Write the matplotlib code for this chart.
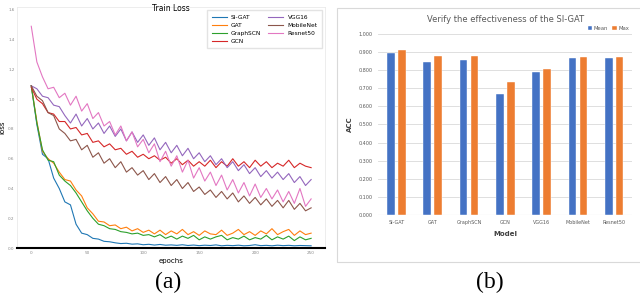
import numpy as np
import matplotlib
matplotlib.use('Agg')
import matplotlib.pyplot as plt
from matplotlib.patches import Rectangle

# --- (a) train loss ---
epochs = list(range(0, 251, 5))
loss_names = ['SI-GAT', 'GAT', 'GraphSCN', 'GCN', 'VGG16', 'MobileNet', 'Resnet50']

si_gat = [1.09, 0.83, 0.63, 0.60, 0.47, 0.40, 0.31, 0.29, 0.16, 0.10,
          0.09, 0.065, 0.06, 0.045, 0.042, 0.035, 0.030, 0.032, 0.026, 0.028,
          0.022, 0.025, 0.020, 0.024, 0.019, 0.021, 0.018, 0.022, 0.017, 0.020,
          0.016, 0.019, 0.017, 0.021, 0.015, 0.018, 0.016, 0.019, 0.015, 0.017,
          0.022, 0.016, 0.018, 0.015, 0.019, 0.016, 0.018, 0.015, 0.017, 0.016, 0.015]
gat = [1.09, 0.85, 0.65, 0.60, 0.57, 0.51, 0.46, 0.45, 0.39, 0.35,
       0.27, 0.23, 0.18, 0.175, 0.15, 0.155, 0.13, 0.14, 0.115, 0.13,
       0.105, 0.12, 0.095, 0.12, 0.09, 0.115, 0.095, 0.125, 0.09, 0.11,
       0.085, 0.115, 0.095, 0.09, 0.12, 0.085, 0.10, 0.125, 0.09, 0.11,
       0.085, 0.115, 0.095, 0.13, 0.09, 0.11, 0.125, 0.085, 0.115, 0.09, 0.10]
graphscn = [1.09, 0.84, 0.66, 0.59, 0.58, 0.49, 0.45, 0.42, 0.37, 0.31,
            0.25, 0.20, 0.16, 0.15, 0.13, 0.125, 0.11, 0.105, 0.095, 0.10,
            0.085, 0.09, 0.075, 0.09, 0.065, 0.08, 0.06, 0.08, 0.065, 0.085,
            0.055, 0.075, 0.06, 0.075, 0.085, 0.055, 0.07, 0.06, 0.08, 0.055,
            0.07, 0.06, 0.085, 0.055, 0.075, 0.06, 0.08, 0.05, 0.075, 0.055, 0.065]
gcn = [1.08, 1.00, 0.97, 0.91, 0.90, 0.85, 0.85, 0.80, 0.81, 0.76,
       0.77, 0.71, 0.72, 0.68, 0.70, 0.66, 0.67, 0.63, 0.65, 0.61,
       0.63, 0.60, 0.62, 0.59, 0.61, 0.57, 0.60, 0.56, 0.59, 0.55,
       0.58, 0.55, 0.59, 0.54, 0.58, 0.55, 0.60, 0.55, 0.58, 0.54,
       0.59, 0.55, 0.58, 0.54, 0.57, 0.55, 0.59, 0.54, 0.57, 0.55, 0.54]
vgg16 = [1.09, 1.07, 1.02, 1.01, 0.96, 0.95, 0.89, 0.84, 0.90, 0.82,
         0.87, 0.80, 0.84, 0.77, 0.82, 0.75, 0.80, 0.72, 0.78, 0.71,
         0.76, 0.69, 0.74, 0.66, 0.71, 0.64, 0.69, 0.62, 0.67, 0.60,
         0.64, 0.58, 0.62, 0.56, 0.60, 0.54, 0.58, 0.52, 0.56, 0.50,
         0.54, 0.48, 0.52, 0.47, 0.51, 0.46, 0.50, 0.44, 0.48, 0.42, 0.46]
mobilenet = [1.09, 1.02, 0.99, 0.91, 0.89, 0.80, 0.77, 0.72, 0.73, 0.66,
             0.69, 0.61, 0.64, 0.57, 0.60, 0.54, 0.58, 0.51, 0.54, 0.49,
             0.52, 0.46, 0.50, 0.44, 0.48, 0.42, 0.46, 0.40, 0.44, 0.38,
             0.41, 0.36, 0.39, 0.34, 0.38, 0.33, 0.37, 0.31, 0.35, 0.30,
             0.34, 0.29, 0.33, 0.28, 0.32, 0.27, 0.32, 0.26, 0.30, 0.25, 0.27]
resnet50 = [1.49, 1.25, 1.15, 1.07, 1.08, 1.01, 1.04, 0.96, 1.02, 0.92,
            0.97, 0.87, 0.91, 0.82, 0.85, 0.76, 0.82, 0.72, 0.78, 0.68,
            0.73, 0.64, 0.70, 0.58, 0.65, 0.55, 0.62, 0.51, 0.59, 0.47,
            0.54, 0.45, 0.51, 0.42, 0.49, 0.39, 0.46, 0.37, 0.44, 0.35,
            0.43, 0.34, 0.40, 0.33, 0.39, 0.31, 0.38, 0.30, 0.40, 0.28, 0.33]

# --- (b) accuracy ---
models = ['SI-GAT', 'GAT', 'GraphSCN', 'GCN', 'VGG16', 'MobileNet', 'Resnet50']
acc_mean = [0.894, 0.848, 0.859, 0.667, 0.789, 0.865, 0.870]
acc_max = [0.909, 0.881, 0.881, 0.734, 0.804, 0.874, 0.874]

fig = plt.figure(figsize=(6.4, 3.01), dpi=100)

# left chart
ax = fig.add_axes([0.027, 0.176, 0.481, 0.801])
series = [si_gat, gat, graphscn, gcn, vgg16, mobilenet, resnet50]
for name, ys in zip(loss_names, series):
    ax.plot(epochs, ys, lw=0.8, label=name)
ax.set_ylim(0, 1.62)
ax.set_yticks(np.arange(0, 1.61, 0.2))
ax.set_xticks(range(0, 251, 50))
ax.tick_params(labelsize=3, colors='#888888', length=0, pad=2)
ax.set_title('Train Loss', fontsize=5.5, y=0.985, pad=0)
ax.set_xlabel('epochs', fontsize=5, labelpad=2)
ax.set_ylabel('loss', fontsize=5, labelpad=2)
for s in ['left', 'top', 'right']:
    ax.spines[s].set_color('#e6e6e6')
    ax.spines[s].set_linewidth(0.5)
ax.spines['bottom'].set_color('black')
ax.spines['bottom'].set_linewidth(1.5)
ax.legend(ncol=2, fontsize=4.2, loc='upper right', frameon=True, fancybox=False,
          edgecolor='#dddddd', handlelength=2.6, columnspacing=1.2, borderpad=0.8,
          labelspacing=0.5, handletextpad=0.7)

# right chart frame
fig.patches.append(Rectangle((0.527, 0.13), 0.48, 0.843, transform=fig.transFigure,
                             fill=False, edgecolor='#d9d9d9', lw=0.8))

bx = fig.add_axes([0.591, 0.286, 0.397, 0.601])
x = np.arange(len(models))
bx.bar(x - 0.15, acc_mean, 0.21, color='#4472C4', edgecolor='white', lw=0.3, label='Mean', zorder=3)
bx.bar(x + 0.15, acc_max, 0.21, color='#ED7D31', edgecolor='white', lw=0.3, label='Max', zorder=3)
bx.set_xlim(-0.5, 6.5)
bx.set_ylim(0, 1.0)
bx.set_yticks(np.arange(0, 1.01, 0.1))
bx.set_yticklabels(['%.3f' % v for v in np.arange(0, 1.01, 0.1)])
bx.set_xticks(x)
bx.set_xticklabels(models)
bx.tick_params(labelsize=3.5, colors='#595959', length=0, pad=4)
bx.grid(axis='y', color='#d9d9d9', lw=0.6, zorder=0)
for s in bx.spines.values():
    s.set_visible(False)
bx.axhline(0, color='#d9d9d9', lw=0.8, zorder=1)
bx.set_title('Verify the effectiveness of the SI-GAT', fontsize=6, color='#595959', pad=9)
bx.set_xlabel('Model', fontsize=5, fontweight='bold', color='#404040', labelpad=4)
bx.set_ylabel('ACC', fontsize=5, fontweight='bold', color='#404040', labelpad=4)
bx.legend(loc='lower right', bbox_to_anchor=(1.0, 1.0), ncol=2, fontsize=3.8, frameon=False,
          handlelength=0.8, handleheight=0.8, handletextpad=0.3, columnspacing=0.8,
          labelcolor='#595959', borderaxespad=0.2)

fig.text(0.263, 0.06, '(a)', fontsize=17, family='Liberation Serif', ha='center', va='center')
fig.text(0.766, 0.06, '(b)', fontsize=17, family='Liberation Serif', ha='center', va='center')

fig.savefig('out.png', dpi=100)
